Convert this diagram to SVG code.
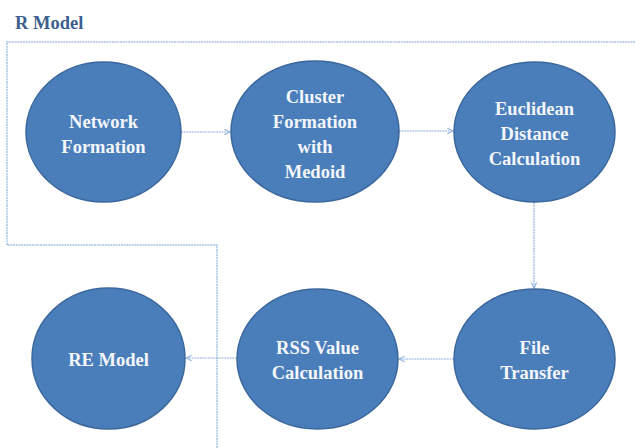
<svg xmlns="http://www.w3.org/2000/svg" width="635" height="448" viewBox="0 0 635 448">
<defs>
<style>
.node{fill:#4a7ebb;stroke:#3b679c;stroke-width:1.5}
.lbl{font-weight:bold;font-size:18.5px;fill:#f4f6fa;text-anchor:middle}
.frame{fill:none;stroke:#a9c3e4;stroke-width:1.5;stroke-dasharray:2 0.7}
.conn{fill:none;stroke:#8fb2de;stroke-width:1.2;stroke-dasharray:2 0.7}
.title{font-weight:bold;font-size:18.5px;fill:#3d5f8e}
</style>
<marker id="arr" viewBox="0 0 10 10" refX="9" refY="5" markerWidth="7" markerHeight="7" orient="auto" markerUnits="userSpaceOnUse">
<path d="M1,1 L9,5 L1,9" fill="none" stroke="#8fb2de" stroke-width="1.5"/>
</marker>
</defs>
<rect width="635" height="448" fill="#ffffff"/>
<text class="title" font-family="'Liberation Serif', 'DejaVu Serif', serif" x="15" y="29">R Model</text>
<path class="frame" d="M635,42 H7 V245 H217 V448"/>
<g id="connectors">
<line class="conn" x1="181" y1="132" x2="230" y2="132" marker-end="url(#arr)"/>
<line class="conn" x1="399" y1="131" x2="453" y2="131" marker-end="url(#arr)"/>
<line class="conn" x1="534" y1="202" x2="534" y2="288" marker-end="url(#arr)"/>
<line class="conn" x1="454" y1="359" x2="399" y2="359" marker-end="url(#arr)"/>
<line class="conn" x1="237" y1="358" x2="186" y2="358" marker-end="url(#arr)"/>
</g>
<g font-family="'Liberation Serif', 'DejaVu Serif', serif">
<g id="network-formation">
<ellipse class="node" cx="103.5" cy="132" rx="77.5" ry="70"/>
<text class="lbl" x="103.5" y="128">Network</text>
<text class="lbl" x="103.5" y="153">Formation</text>
</g>
<g id="cluster-formation">
<ellipse class="node" cx="315" cy="131.5" rx="84" ry="70.5"/>
<text class="lbl" x="315" y="103">Cluster</text>
<text class="lbl" x="315" y="128">Formation</text>
<text class="lbl" x="315" y="153">with</text>
<text class="lbl" x="315" y="178">Medoid</text>
</g>
<g id="euclidean-distance">
<ellipse class="node" cx="534.5" cy="132" rx="80.5" ry="70"/>
<text class="lbl" x="534.5" y="115">Euclidean</text>
<text class="lbl" x="534.5" y="140">Distance</text>
<text class="lbl" x="534.5" y="165">Calculation</text>
</g>
<g id="file-transfer">
<ellipse class="node" cx="534.5" cy="359" rx="80.5" ry="70"/>
<text class="lbl" x="534.5" y="354">File</text>
<text class="lbl" x="534.5" y="379">Transfer</text>
</g>
<g id="rss-value">
<ellipse class="node" cx="317.5" cy="359" rx="80.5" ry="70"/>
<text class="lbl" x="317.5" y="354">RSS Value</text>
<text class="lbl" x="317.5" y="379">Calculation</text>
</g>
<g id="re-model">
<ellipse class="node" cx="108.5" cy="358.5" rx="76.5" ry="70.5"/>
<text class="lbl" x="108.5" y="366">RE Model</text>
</g>
</g>
</svg>
